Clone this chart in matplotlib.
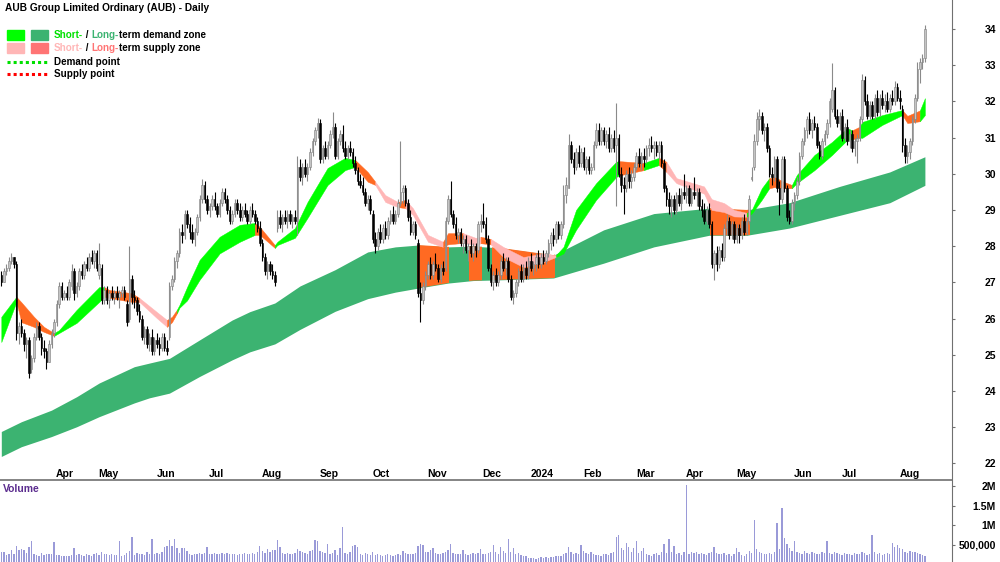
import numpy as np
import pandas as pd
import matplotlib
matplotlib.use('Agg')
import matplotlib.pyplot as plt
from matplotlib.patches import Rectangle
from matplotlib.lines import Line2D

plt.rcParams['font.family'] = ['Liberation Sans', 'DejaVu Sans']

'''
0) data read off the chart (AUB daily, Mar 2023 - Aug 2024)
'''
asx_holidays = ['2023-04-07', '2023-04-10', '2023-04-25', '2023-06-12',
                '2023-12-25', '2023-12-26', '2024-01-01', '2024-01-26',
                '2024-03-29', '2024-04-01', '2024-04-25', '2024-06-10']

opens = [
    27.2, 27.0, 27.3, 27.4, 27.6, 27.7, 27.5, 25.6, 25.8, 25.6,
    25.3, 25.4, 24.6, 24.9, 25.5, 25.8, 25.5, 25.2, 25.1, 24.8,
    25.3, 25.6, 25.9, 26.4, 26.9, 26.6, 26.7, 26.6, 26.9, 27.3,
    26.7, 26.9, 27.3, 27.2, 27.5, 27.4, 27.7, 27.6, 27.8, 27.2,
    27.4, 26.5, 26.8, 26.5, 26.7, 26.6, 26.7, 26.6, 26.7, 26.8,
    26.4, 26.0, 27.1, 26.6, 26.5, 26.2, 26.0, 25.5, 25.7, 25.3,
    25.5, 25.1, 25.4, 25.3, 25.2, 25.5, 25.2, 25.5, 26.9, 27.1,
    27.6, 27.8, 28.4, 28.3, 28.9, 28.6, 28.4, 28.2, 28.4, 28.8,
    29.3, 29.7, 29.3, 29.0, 29.1, 29.3, 29.1, 28.9, 29.2, 29.5,
    29.3, 29.0, 28.7, 28.9, 29.2, 29.0, 28.8, 29.0, 28.9, 28.7,
    29.0, 28.9, 28.7, 28.5, 28.1, 27.7, 27.3, 27.5, 27.3, 27.2,
    28.5, 28.8, 28.6, 28.8, 28.7, 28.9, 28.7, 28.8, 28.7, 30.2,
    29.9, 30.2, 30.0, 30.2, 30.6, 30.9, 31.2, 31.4, 30.4, 30.7,
    30.5, 30.8, 31.1, 31.3, 30.5, 30.9, 31.1, 30.7, 30.5, 30.7,
    30.6, 30.3, 30.1, 29.8, 29.7, 29.5, 29.2, 29.3, 28.9, 28.2,
    28.0, 28.4, 28.2, 28.5, 28.3, 28.7, 28.9, 28.7, 28.9, 29.2,
    29.5, 29.6, 29.2, 28.8, 28.4, 28.6, 28.1, 26.7, 26.5, 26.9,
    27.2, 27.5, 27.2, 27.5, 27.4, 27.1, 27.4, 27.4, 28.7, 29.3,
    28.9, 28.6, 28.3, 28.4, 28.1, 28.2, 27.9, 28.0, 27.8, 28.0,
    27.9, 28.6, 28.7, 28.6, 28.2, 27.4, 27.0, 27.2, 27.0, 27.2,
    27.6, 27.4, 27.6, 27.1, 26.6, 26.7, 27.0, 27.3, 27.1, 27.4,
    27.2, 27.6, 27.4, 27.5, 27.7, 27.5, 27.7, 27.6, 27.8, 28.1,
    28.3, 28.2, 28.6, 28.3, 28.6, 29.4, 29.6, 30.8, 30.4, 30.2,
    30.6, 30.3, 30.6, 30.2, 30.4, 30.1, 30.2, 30.8, 31.2, 30.9,
    31.2, 30.9, 31.1, 30.7, 31.0, 30.8, 31.0, 30.0, 29.7, 29.6,
    30.0, 29.8, 29.9, 30.2, 30.5, 30.3, 30.5, 30.4, 30.7, 30.8,
    30.7, 30.8, 30.6, 30.8, 30.3, 29.6, 29.3, 29.1, 29.3, 29.0,
    29.4, 29.2, 29.5, 29.4, 29.6, 29.2, 29.5, 29.4, 29.5, 29.1,
    29.0, 28.7, 29.0, 28.6, 27.5, 27.8, 27.5, 27.9, 27.7, 28.5,
    28.7, 28.3, 28.6, 28.2, 28.5, 28.3, 28.7, 28.4, 28.7, 29.85,
    30.2, 30.9, 31.5, 31.6, 31.2, 31.3, 30.7, 30.0, 29.9, 30.4,
    29.6, 29.3, 30.4, 29.6, 28.8, 28.7, 29.2, 29.4, 29.8, 30.5,
    30.9, 31.2, 31.5, 31.2, 31.4, 31.3, 30.8, 30.5, 30.9, 31.1,
    31.4, 31.8, 32.3, 31.6, 31.4, 31.6, 31.0, 31.3, 30.9, 31.1,
    30.7, 30.9, 31.0, 31.5, 32.6, 32.0, 31.6, 31.9, 31.6, 32.1,
    31.7, 32.1, 31.9, 32.0, 31.8, 32.1, 32.0, 32.4, 32.1, 31.8,
    30.8, 30.5, 30.6, 30.9, 31.5, 32.1, 32.9, 33.1, 33.2]

highs = [
    27.3, 27.4, 27.5, 27.7, 27.8, 27.7, 27.6, 25.9, 26.0, 25.7,
    25.5, 25.5, 25.0, 25.6, 25.9, 25.9, 25.6, 25.4, 25.2, 25.4,
    25.7, 26.0, 26.5, 27.0, 27.0, 26.8, 26.9, 27.1, 27.5, 27.4,
    27.0, 27.4, 27.5, 27.6, 27.7, 27.8, 27.9, 27.9, 27.9, 28.1,
    27.5, 26.9, 26.9, 26.8, 26.9, 26.8, 26.9, 26.8, 26.9, 26.9,
    26.5, 28.0, 27.2, 26.8, 26.6, 26.4, 26.1, 25.8, 25.8, 25.6,
    25.7, 25.5, 25.6, 25.5, 25.6, 25.6, 25.4, 27.0, 27.2, 27.7,
    27.9, 28.5, 28.6, 29.0, 29.0, 28.8, 28.6, 28.5, 28.9, 29.4,
    29.85, 29.8, 29.4, 29.2, 29.4, 29.5, 29.2, 29.3, 29.6, 29.6,
    29.4, 29.1, 29.0, 29.3, 29.3, 29.2, 29.1, 29.2, 29.0, 29.1,
    29.2, 29.0, 28.8, 28.7, 28.2, 27.8, 27.6, 27.6, 27.5, 27.3,
    29.0, 29.0, 28.9, 29.0, 29.0, 29.0, 28.9, 29.0, 30.5, 30.4,
    30.3, 30.4, 30.3, 30.7, 31.0, 31.3, 31.55, 31.5, 30.8, 30.9,
    30.9, 31.2, 31.7, 31.4, 31.0, 31.2, 31.35, 30.9, 30.8, 30.9,
    30.7, 30.5, 30.2, 30.0, 29.9, 29.6, 29.4, 29.4, 29.0, 28.4,
    28.5, 28.6, 28.6, 28.7, 28.8, 29.0, 29.1, 29.0, 29.3, 30.9,
    29.7, 29.7, 29.3, 29.0, 28.7, 28.7, 28.2, 27.0, 27.0, 27.3,
    27.6, 27.7, 27.6, 27.8, 27.5, 27.5, 27.6, 28.8, 29.4, 29.8,
    29.0, 28.8, 28.5, 28.5, 28.3, 28.3, 28.1, 28.2, 28.1, 28.1,
    28.7, 28.9, 29.2, 28.8, 28.3, 27.5, 27.3, 27.4, 27.3, 27.7,
    27.8, 27.7, 27.7, 27.2, 26.8, 27.1, 27.4, 27.5, 27.5, 27.6,
    27.7, 27.8, 27.6, 27.8, 27.9, 27.8, 27.9, 27.9, 28.2, 28.4,
    28.5, 28.7, 28.7, 28.7, 29.7, 29.9, 31.1, 30.9, 30.6, 30.7,
    30.8, 30.7, 30.75, 30.5, 30.5, 30.3, 30.9, 31.4, 31.4, 31.3,
    31.3, 31.2, 31.3, 31.1, 31.2, 31.95, 31.1, 30.2, 29.9, 30.1,
    30.2, 30.1, 30.3, 30.6, 30.7, 30.6, 30.7, 30.8, 31.0, 31.05,
    30.9, 30.9, 30.9, 30.9, 30.4, 29.7, 29.5, 29.4, 29.4, 29.5,
    29.6, 29.6, 30.0, 29.7, 29.7, 29.6, 29.9, 29.6, 29.6, 29.3,
    29.2, 29.1, 29.2, 28.7, 27.9, 28.0, 28.0, 28.1, 28.6, 28.9,
    28.8, 28.7, 28.7, 28.6, 28.6, 28.8, 28.9, 28.8, 29.4, 30.2,
    31.1, 31.7, 31.8, 31.7, 31.4, 31.4, 30.8, 30.2, 30.5, 30.5,
    29.8, 30.5, 30.5, 29.7, 29.0, 29.3, 29.5, 29.9, 30.6, 31.0,
    31.3, 31.6, 31.7, 31.5, 31.6, 31.4, 30.9, 31.0, 31.2, 31.5,
    32.1, 33.05, 32.4, 31.8, 31.7, 31.8, 31.4, 31.5, 31.2, 31.2,
    31.0, 31.1, 31.6, 32.75, 32.7, 32.2, 32.0, 32.0, 32.2, 32.3,
    32.2, 32.3, 32.2, 32.25, 32.2, 32.3, 32.55, 32.5, 32.3, 31.9,
    31.0, 30.8, 31.0, 31.6, 32.2, 33.1, 33.2, 33.3, 34.1]

lows = [
    26.9, 27.0, 27.2, 27.3, 27.5, 27.4, 25.4, 25.3, 25.5, 25.1,
    24.9, 24.35, 24.5, 24.8, 25.4, 25.4, 25.0, 24.9, 24.6, 24.8,
    25.2, 25.5, 25.8, 26.3, 26.5, 26.5, 26.5, 26.5, 26.8, 26.5,
    26.6, 26.8, 27.1, 27.1, 27.3, 27.3, 27.5, 27.4, 27.3, 27.1,
    26.4, 26.4, 26.4, 26.3, 26.5, 26.4, 26.5, 26.3, 26.6, 26.5,
    25.8, 25.9, 26.4, 26.3, 26.1, 25.9, 25.4, 25.3, 25.2, 25.1,
    25.0, 25.0, 25.2, 25.0, 25.1, 25.1, 25.0, 25.4, 26.8, 27.0,
    27.4, 27.7, 28.1, 28.2, 28.5, 28.2, 28.1, 28.0, 28.3, 28.7,
    29.2, 29.2, 28.9, 28.8, 29.0, 29.0, 28.8, 28.8, 29.1, 29.2,
    28.9, 28.6, 28.6, 28.8, 28.9, 28.7, 28.7, 28.8, 28.6, 28.6,
    28.8, 28.6, 28.4, 28.0, 27.6, 27.2, 27.1, 27.2, 27.1, 26.9,
    28.4, 28.5, 28.4, 28.6, 28.5, 28.6, 28.5, 28.6, 28.3, 29.8,
    29.7, 29.9, 29.8, 30.1, 30.5, 30.8, 31.0, 30.3, 30.3, 30.4,
    30.4, 30.7, 31.0, 30.4, 30.4, 30.8, 30.6, 30.4, 30.4, 30.5,
    30.2, 30.0, 29.7, 29.6, 29.4, 29.1, 29.0, 28.9, 28.1, 27.8,
    27.9, 28.1, 28.1, 28.2, 28.2, 28.6, 28.6, 28.6, 28.8, 29.1,
    29.2, 29.1, 28.7, 28.3, 28.3, 28.2, 26.6, 25.9, 26.4, 26.8,
    27.1, 27.1, 27.1, 27.3, 27.0, 27.0, 27.2, 27.3, 28.6, 28.8,
    28.5, 28.2, 28.1, 28.0, 27.8, 27.8, 27.6, 27.7, 27.6, 27.7,
    27.8, 28.4, 28.5, 28.1, 27.3, 26.9, 26.8, 26.9, 26.9, 27.1,
    27.3, 27.2, 27.0, 26.5, 26.4, 26.6, 26.9, 27.0, 27.0, 27.1,
    27.1, 27.3, 27.2, 27.3, 27.4, 27.4, 27.5, 27.5, 27.7, 27.9,
    28.0, 28.1, 28.2, 28.2, 28.5, 29.2, 29.6, 30.3, 30.0, 30.1,
    30.2, 30.2, 30.1, 30.0, 30.0, 30.0, 30.1, 30.7, 30.8, 30.8,
    30.8, 30.7, 30.6, 30.6, 30.6, 29.1, 29.9, 29.5, 28.9, 29.5,
    29.6, 29.6, 29.8, 30.1, 30.2, 30.1, 30.2, 30.3, 30.5, 30.6,
    30.4, 30.5, 30.4, 30.2, 29.5, 29.1, 28.9, 28.8, 28.9, 28.9,
    29.1, 29.0, 29.3, 29.2, 29.1, 29.1, 29.3, 29.1, 29.0, 28.8,
    28.6, 28.6, 28.5, 27.4, 27.07, 27.3, 27.4, 27.6, 27.6, 28.3,
    28.2, 28.2, 28.1, 28.1, 28.1, 28.2, 28.3, 28.3, 28.6, 29.8,
    30.1, 30.8, 31.2, 31.1, 30.9, 30.6, 29.9, 29.7, 29.8, 29.5,
    28.85, 29.2, 29.5, 28.7, 28.6, 28.6, 29.0, 29.3, 29.7, 30.4,
    30.8, 31.0, 31.1, 31.0, 31.2, 30.7, 30.4, 30.4, 30.8, 31.0,
    31.3, 31.7, 31.5, 31.3, 31.2, 30.9, 30.9, 30.8, 30.7, 30.6,
    30.5, 30.3, 30.9, 31.4, 31.9, 31.5, 31.5, 31.5, 31.5, 31.6,
    31.6, 31.8, 31.7, 31.7, 31.7, 31.9, 31.9, 32.0, 31.8, 30.6,
    30.3, 30.3, 30.4, 30.8, 31.4, 32.0, 32.5, 32.9, 33.1]

closes = [
    27.0, 27.3, 27.4, 27.6, 27.7, 27.5, 25.6, 25.8, 25.6, 25.3,
    25.4, 24.5, 24.9, 25.5, 25.8, 25.5, 25.2, 25.1, 24.8, 25.3,
    25.6, 25.9, 26.4, 26.9, 26.6, 26.7, 26.6, 27.0, 27.3, 26.7,
    26.9, 27.3, 27.2, 27.5, 27.4, 27.7, 27.6, 27.8, 27.4, 27.5,
    26.5, 26.8, 26.5, 26.7, 26.6, 26.7, 26.6, 26.7, 26.8, 26.6,
    25.9, 27.1, 26.6, 26.5, 26.2, 26.0, 25.5, 25.7, 25.3, 25.5,
    25.1, 25.4, 25.3, 25.2, 25.5, 25.2, 25.1, 26.9, 27.1, 27.6,
    27.8, 28.4, 28.3, 28.9, 28.6, 28.4, 28.2, 28.4, 28.8, 29.3,
    29.7, 29.3, 29.0, 29.1, 29.3, 29.1, 28.9, 29.2, 29.5, 29.3,
    29.0, 28.7, 28.9, 29.2, 29.0, 28.8, 29.0, 28.9, 28.7, 29.0,
    28.9, 28.7, 28.5, 28.1, 27.7, 27.3, 27.5, 27.3, 27.2, 27.0,
    28.8, 28.6, 28.8, 28.7, 28.9, 28.7, 28.8, 28.7, 30.2, 29.9,
    30.2, 30.0, 30.2, 30.6, 30.9, 31.2, 31.4, 30.4, 30.7, 30.5,
    30.8, 31.1, 31.3, 30.5, 30.9, 31.1, 30.7, 30.5, 30.7, 30.6,
    30.3, 30.1, 29.8, 29.7, 29.5, 29.2, 29.3, 29.0, 28.2, 28.0,
    28.4, 28.2, 28.5, 28.3, 28.7, 28.9, 28.7, 28.9, 29.2, 29.5,
    29.6, 29.2, 28.8, 28.4, 28.6, 28.3, 26.7, 26.5, 26.9, 27.2,
    27.5, 27.2, 27.5, 27.4, 27.1, 27.4, 27.3, 28.7, 29.3, 28.9,
    28.6, 28.3, 28.4, 28.1, 28.2, 27.9, 28.0, 27.8, 28.0, 27.9,
    28.6, 28.7, 28.6, 28.2, 27.4, 27.0, 27.2, 27.0, 27.2, 27.6,
    27.4, 27.6, 27.1, 26.6, 26.7, 27.0, 27.3, 27.1, 27.4, 27.2,
    27.6, 27.4, 27.5, 27.7, 27.5, 27.7, 27.6, 27.8, 28.1, 28.3,
    28.2, 28.6, 28.3, 28.6, 29.4, 29.7, 30.8, 30.4, 30.2, 30.6,
    30.3, 30.6, 30.2, 30.4, 30.1, 30.2, 30.8, 31.2, 30.9, 31.2,
    30.9, 31.1, 30.7, 31.0, 30.7, 31.0, 30.0, 29.7, 29.6, 30.0,
    29.8, 29.9, 30.2, 30.5, 30.3, 30.5, 30.4, 30.7, 30.8, 30.7,
    30.8, 30.6, 30.8, 30.3, 29.6, 29.3, 29.1, 29.3, 29.0, 29.4,
    29.2, 29.5, 29.4, 29.6, 29.2, 29.5, 29.4, 29.5, 29.1, 29.0,
    28.7, 29.0, 28.6, 27.5, 27.8, 27.5, 27.9, 27.7, 28.5, 28.7,
    28.3, 28.6, 28.2, 28.5, 28.3, 28.7, 28.4, 28.7, 29.3, 29.9,
    30.9, 31.5, 31.6, 31.2, 31.3, 30.7, 30.0, 29.9, 30.4, 29.6,
    29.3, 30.4, 29.6, 28.8, 28.7, 29.2, 29.4, 29.8, 30.5, 30.9,
    31.2, 31.5, 31.2, 31.4, 31.3, 30.8, 30.5, 30.9, 31.1, 31.4,
    32.0, 32.3, 31.6, 31.4, 31.6, 31.0, 31.3, 30.9, 31.1, 30.7,
    30.9, 31.0, 31.5, 32.6, 32.0, 31.6, 31.9, 31.6, 32.1, 31.7,
    32.1, 31.9, 32.0, 31.8, 32.1, 32.0, 32.4, 32.1, 32.0, 30.8,
    30.5, 30.6, 30.9, 31.5, 32.1, 32.9, 33.1, 33.2, 34.0]

# volume in thousands of shares
volume_k = [
    330, 320, 250, 280, 360, 280, 470, 380, 390, 380,
    300, 440, 600, 260, 250, 230, 300, 250, 280, 270,
    260, 580, 240, 250, 220, 230, 220, 230, 250, 420,
    250, 260, 240, 230, 260, 250, 230, 270, 300, 250,
    330, 260, 280, 250, 260, 240, 250, 600, 230, 250,
    300, 340, 710, 250, 300, 280, 260, 250, 330, 260,
    640, 280, 290, 270, 320, 450, 470, 620, 480, 640,
    430, 300, 420, 430, 340, 270, 250, 280, 260, 300,
    270, 300, 450, 280, 260, 290, 270, 260, 300, 280,
    290, 270, 260, 280, 250, 270, 260, 290, 280, 260,
    300, 280, 310, 480, 350, 300, 400, 330, 360, 380,
    620, 450, 300, 280, 290, 270, 280, 300, 400, 350,
    330, 300, 280, 340, 380, 620, 610, 350, 320, 300,
    530, 280, 300, 380, 250, 420, 960, 300, 260, 330,
    480, 500, 450, 280, 250, 300, 270, 240, 330, 250,
    260, 240, 230, 250, 270, 240, 230, 250, 260, 250,
    350, 300, 280, 260, 270, 300, 480, 530, 500, 330,
    320, 380, 420, 300, 260, 270, 300, 330, 380, 530,
    300, 280, 270, 260, 380, 270, 250, 260, 300, 280,
    300, 400, 270, 260, 300, 330, 500, 330, 280, 450,
    340, 300, 660, 330, 420, 280, 300, 250, 220, 230,
    180, 160, 170, 150, 180, 200, 170, 190, 180, 200,
    190, 210, 230, 220, 260, 300, 450, 330, 280, 300,
    260, 500, 350, 300, 280, 330, 260, 250, 240, 230,
    260, 280, 250, 300, 330, 700, 750, 420, 380, 550,
    450, 330, 430, 600, 300, 350, 430, 280, 250, 230,
    260, 300, 250, 320, 520, 300, 650, 330, 470, 280,
    300, 250, 330, 2030, 280, 320, 300, 330, 280, 300,
    260, 250, 300, 330, 450, 300, 280, 260, 300, 250,
    280, 230, 270, 420, 330, 250, 230, 260, 350, 300,
    1140, 400, 330, 300, 280, 260, 300, 280, 330, 1050,
    400, 1440, 680, 530, 420, 350, 600, 330, 300, 280,
    350, 300, 280, 320, 300, 260, 280, 320, 300, 610,
    300, 280, 330, 300, 270, 250, 300, 280, 260, 250,
    300, 280, 260, 320, 300, 250, 270, 750, 330, 280,
    300, 250, 270, 300, 280, 550, 450, 500, 420, 400,
    330, 300, 350, 320, 330, 300, 280, 250, 220]

# short-term zone edges (bar number, top, bottom) and zone type from that bar on
st_bar = [0, 6, 8, 13, 17, 21, 23, 30, 39, 41, 43, 52, 55, 62, 66, 68, 70, 71,
          74, 79, 87, 95, 101, 103, 109, 110, 117, 122, 130, 137, 141, 146,
          149, 153, 158, 161, 164, 170, 176, 178, 184, 189, 191, 195, 200,
          208, 216, 221, 224, 229, 237, 245, 246, 256, 262, 265, 269, 280,
          283, 288, 292, 297, 299, 303, 306, 308, 312, 315, 317, 324, 331,
          337, 339, 342, 343, 351, 359, 361, 366, 368]
st_top = [26.05, 26.6, 26.45, 26.05, 25.77, 25.6, 25.68, 26.24, 26.87, 26.87,
          26.79, 26.7, 26.57, 26.18, 25.96, 26.05, 26.25, 26.38, 26.87, 27.62,
          28.26, 28.59, 28.64, 28.53, 28.03, 28.12, 28.5, 29.22, 30.16, 30.44,
          30.38, 30.05, 29.78, 29.41, 29.22, 29.28, 29.05, 28.31, 28.12, 28.36,
          28.36, 28.23, 28.26, 28.2, 27.98, 27.7, 27.8, 27.75, 27.98, 29.0,
          29.74, 30.33, 30.35, 30.3, 30.44, 30.33, 29.88, 29.65, 29.3, 29.19,
          29.0, 28.92, 29.0, 29.6, 29.88, 29.91, 29.77, 29.69, 29.97, 30.52,
          30.88, 31.26, 31.2, 31.3, 31.43, 31.62, 31.76, 31.6, 31.75, 32.09]
st_bot = [25.35, 26.46, 25.9, 25.77, 25.63, 25.52, 25.6, 25.88, 26.46, 26.6,
          26.57, 26.46, 26.46, 26.01, 25.77, 25.9, 26.15, 26.3, 26.5, 27.07,
          27.8, 28.12, 28.31, 28.31, 27.95, 28.03, 28.23, 28.78, 29.69, 30.1,
          30.19, 29.78, 29.69, 29.22, 29.08, 29.05, 28.86, 28.12, 27.98, 28.05,
          28.09, 28.03, 28.08, 28.05, 27.7, 27.42, 27.56, 27.7, 27.8, 28.45,
          29.28, 29.91, 29.95, 30.1, 30.24, 30.05, 29.74, 29.45, 29.0, 28.94,
          28.82, 28.81, 28.9, 29.28, 29.6, 29.63, 29.6, 29.6, 29.74, 30.1,
          30.52, 30.93, 30.95, 31.0, 30.99, 31.35, 31.62, 31.4, 31.45, 31.62]
# d = short-term demand, s = short-term supply, x = supply over demand (orange)
st_kind = ['d', 'x', 'x', 'x', 'x', 'd', 'd', 'd', 'd', 'x', 'x', 'x', 's', 's',
           'x', 'x', 'd', 'd', 'd', 'd', 'd', 'd', 'x', 'x', 'd', 'd', 'd', 'd',
           'd', 'd', 'x', 'x', 's', 's', 'x', 's', 's', 's', 'x', 'x', 's', 's',
           'x', 's', 's', 's', 's', 'd', 'd', 'd', 'd', 'd', 'x', 'd', 'x', 's',
           's', 's', 's', 's', 's', 'd', 'd', 'd', 'x', 'x', 'x', 'd', 'd', 'd',
           'd', 'd', 'x', 'd', 'd', 'd', 'x', 'x', 'd', 'd']

# long-term zone edges
lt_bar = [0, 8, 20, 30, 39, 53, 59, 67, 79, 92, 99, 109, 119, 133, 146, 157,
          166, 178, 188, 199, 220, 240, 260, 282, 297, 314, 334, 354, 368]
lt_top = [22.88, 23.15, 23.47, 23.84, 24.22, 24.67, 24.77, 24.9, 25.41, 25.96,
          26.19, 26.43, 26.9, 27.35, 27.84, 27.98, 28.03, 27.98, 28.0, 27.95,
          27.75, 28.45, 28.9, 29.05, 29.0, 29.2, 29.65, 30.05, 30.47]
lt_bot = [22.19, 22.46, 22.74, 23.01, 23.29, 23.67, 23.81, 23.94, 24.4, 24.86,
          25.08, 25.3, 25.7, 26.2, 26.55, 26.73, 26.84, 26.98, 27.05, 27.07,
          27.12, 27.53, 27.98, 28.3, 28.3, 28.5, 28.85, 29.2, 29.68]
# bars where the long-term zone turns to supply
lt_supply = [(166, 178), (187, 191), (196, 220), (283, 298)]

price_ticks = [22, 23, 24, 25, 26, 27, 28, 29, 30, 31, 32, 33, 34]
vol_ticks = [500000, 1000000, 1500000, 2000000]
vol_labels = ['500,000', '1M', '1.5M', '2M']

C_ST_DEM = '#00FF00'
C_LT_DEM = '#3CB371'
C_ST_SUP = '#FFB6B6'
C_LT_SUP = '#FF7474'
C_ORANGE = '#FF6A22'
zone_col = {'d': C_ST_DEM, 's': C_ST_SUP, 'x': C_ORANGE}

'''
1) dates
'''
days = pd.bdate_range('2023-03-03', '2024-08-16')
days = days[~days.isin(pd.to_datetime(asx_holidays))]
n = len(closes)
days = days[:n]
xs = np.arange(n)

'''
2) ploting
'''
W, H = 1000, 562
fig = plt.figure(figsize=(W / 100, H / 100), dpi=100)
ax = fig.add_axes([0, 1 - 480 / H, 952 / W, 480 / H])
axv = fig.add_axes([0, 0, 952 / W, 81 / H])

x_lo, x_hi = -0.52, 378.8
ax.set_xlim(x_lo, x_hi)
axv.set_xlim(x_lo, x_hi)
ax.set_ylim(21.54, 34.80)
axv.set_ylim(66000, 2130000)

# long-term zone
band = ax.fill_between(lt_bar, lt_bot, lt_top, color=C_LT_DEM, lw=0, zorder=1)
clip = band.get_paths()[0]
for a, b in lt_supply:
    sp = ax.axvspan(a - 0.5, b + 0.5, color=C_ORANGE, lw=0, zorder=1.5)
    sp.set_clip_path(clip, ax.transData)

# short-term zone, one fill per run of the same kind
k = 0
while k < len(st_bar) - 1:
    e = k
    while e + 1 < len(st_bar) - 1 and st_kind[e + 1] == st_kind[k]:
        e += 1
    c = zone_col[st_kind[k]]
    ax.fill_between(st_bar[k:e + 2], st_bot[k:e + 2], st_top[k:e + 2],
                    facecolor=c, edgecolor=c, lw=0.3, zorder=2)
    k = e + 1

# candles
o = np.array(opens); h = np.array(highs); l = np.array(lows); c = np.array(closes)
up = c >= o
ax.vlines(xs[up], l[up], h[up], color='#8A8A8A', lw=0.8, zorder=3)
ax.vlines(xs[~up], l[~up], h[~up], color='black', lw=0.8, zorder=3)
body = np.maximum(np.abs(c - o), 0.04)
ax.bar(xs[up], body[up], bottom=np.minimum(o, c)[up], width=0.62,
       facecolor='#C4C4C4', edgecolor='#7C7C7C', lw=0.4, zorder=4)
ax.bar(xs[~up], body[~up], bottom=np.minimum(o, c)[~up], width=0.62,
       facecolor='black', edgecolor='black', lw=0.4, zorder=4)

# volume
axv.bar(xs, np.array(volume_k) * 1000, width=0.55, color='#9A9AD8', lw=0)

# axes look
for a_ in (ax, axv):
    a_.spines['top'].set_visible(False)
    a_.spines['left'].set_visible(False)
    a_.spines['right'].set_color('#707070')
    a_.set_xticks([])
    a_.yaxis.tick_right()
    a_.tick_params(axis='y', direction='out', length=2.5, color='#707070',
                   pad=29.2, labelsize=7.5)
ax.spines['bottom'].set_color('#707070')
ax.spines['bottom'].set_linewidth(1.2)
axv.spines['bottom'].set_visible(False)

ax.set_yticks(price_ticks)
ax.set_yticklabels([str(t) for t in price_ticks], fontweight='bold')
axv.set_yticks(vol_ticks)
axv.set_yticklabels(vol_labels, fontweight='bold')
for lbl in ax.get_yticklabels() + axv.get_yticklabels():
    lbl.set_horizontalalignment('right')

# month labels
for i in range(1, n):
    if days[i].month != days[i - 1].month:
        txt = str(days[i].year) if days[i].month == 1 else days[i].strftime('%b')
        ax.text(i + 0.8, 0.0125, txt, transform=ax.get_xaxis_transform(),
                ha='left', va='center', fontsize=7.5, fontweight='bold')

# title and legend
def fx(px):
    return px / W

def fy(py):
    return 1 - py / H

fig.text(fx(5), fy(8), 'AUB Group Limited Ordinary (AUB) - Daily',
         fontsize=7.25, fontweight='bold', va='center')
fig.text(fx(3), fy(489), 'Volume', color='#5B2C8E', fontsize=7.5,
         fontweight='bold', va='center')

for px0, col in [(7, C_ST_DEM), (31, C_LT_DEM)]:
    fig.patches.append(Rectangle((fx(px0), fy(40)), 17 / W, 10 / H, color=col,
                                 transform=fig.transFigure, figure=fig))
for px0, col in [(7, C_ST_SUP), (31, C_LT_SUP)]:
    fig.patches.append(Rectangle((fx(px0), fy(53)), 17 / W, 10 / H, color=col,
                                 transform=fig.transFigure, figure=fig))
fig.lines.append(Line2D([fx(7), fx(48)], [fy(62), fy(62)], color='#00E000',
                        lw=2.2, ls=(0, (1, 1)), transform=fig.transFigure))
fig.lines.append(Line2D([fx(7), fx(48)], [fy(74), fy(74)], color='#FF0000',
                        lw=2.2, ls=(0, (1, 1)), transform=fig.transFigure))

renderer = fig.canvas.get_renderer()

def legend_line(py, pieces):
    x = 54
    for s, col in pieces:
        t = fig.text(fx(x), fy(py), s, color=col, fontsize=7.15,
                     fontweight='bold', va='center')
        x += t.get_window_extent(renderer=renderer).width

legend_line(35, [('Short-', '#00E000'), (' / ', 'black'),
                 ('Long-', C_LT_DEM), ('term demand zone', 'black')])
legend_line(48, [('Short-', C_ST_SUP), (' / ', 'black'),
                 ('Long-', C_LT_SUP), ('term supply zone', 'black')])
legend_line(62, [('Demand point', 'black')])
legend_line(74, [('Supply point', 'black')])

plt.savefig('out.png', dpi=100)
